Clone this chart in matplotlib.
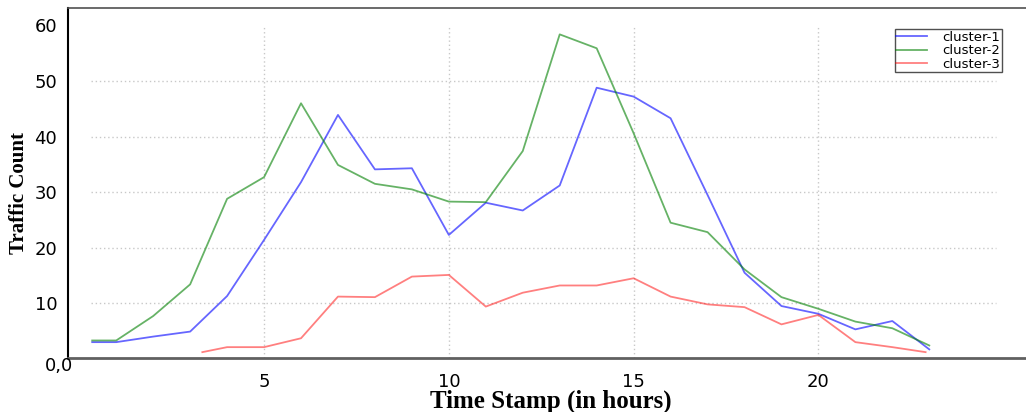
import matplotlib
matplotlib.use("Agg")
import matplotlib.pyplot as plt
import matplotlib.transforms as mtransforms

# ---- data ----
hours = [0.35, 1, 2, 3, 4, 5, 6, 7, 8, 9, 10, 11, 12, 13, 14, 15, 16, 17, 18, 19, 20, 21, 22, 23]
cluster1 = [3.0, 3.0, 4.0, 4.9, 11.3, 21.4, 31.8, 43.9, 34.1, 34.3, 22.3, 28.1, 26.7, 31.2,
            48.8, 47.2, 43.3, 29.5, 15.5, 9.5, 8.1, 5.3, 6.8, 1.7]
cluster2 = [3.3, 3.3, 7.7, 13.4, 28.8, 32.7, 46.0, 34.9, 31.5, 30.5, 28.3, 28.2, 37.4, 58.4,
            55.9, 40.6, 24.5, 22.8, 16.1, 11.1, 9.0, 6.7, 5.5, 2.4]
hours3 = [3.33, 4, 5, 6, 7, 8, 9, 10, 11, 12, 13, 14, 15, 16, 17, 18, 19, 20, 21, 22, 22.9]
cluster3 = [1.2, 2.1, 2.1, 3.7, 11.2, 11.1, 14.8, 15.1, 9.4, 11.9, 13.2, 13.2, 14.5, 11.2,
            9.8, 9.3, 6.2, 7.9, 3.0, 2.1, 1.2]
series_labels = ["cluster-1", "cluster-2", "cluster-3"]
xticks = [5, 10, 15, 20]
xtick_labels = ["5", "10", "15", "20"]
yticks = [10, 20, 30, 40, 50, 60]
ytick_labels = ["10", "20", "30", "40", "50", "60"]
zero_label = "0,0"

fig = plt.figure(figsize=(10.26, 4.12), dpi=100)
ax = fig.add_axes([0.0666, 0.1318, 0.94, 0.8488])

# grid lines (dotted, not spanning the full axes)
ax.hlines([10, 20, 30, 40, 50], 0.33, 24.8, colors="#c8c8c8", linestyles=(0, (1, 2)), lw=1.0, zorder=0)
ax.vlines(xticks, 0.2, 59.8, colors="#c8c8c8", linestyles=(0, (1, 2)), lw=1.0, zorder=0)

ax.plot(hours, cluster1, color="blue", alpha=0.6, lw=1.3, label=series_labels[0])
ax.plot(hours, cluster2, color="green", alpha=0.6, lw=1.3, label=series_labels[1])
ax.plot(hours3, cluster3, color="red", alpha=0.5, lw=1.3, label=series_labels[2])

ax.set_xlim(-0.296, 25.8)
ax.set_ylim(0.2, 63.15)

ax.set_xticks(xticks)
ax.set_xticklabels(xtick_labels, fontfamily="DejaVu Sans", fontsize=13)
ax.set_yticks(yticks)
ax.set_yticklabels(ytick_labels, fontfamily="DejaVu Sans", fontsize=13)
ax.tick_params(axis="x", length=0, pad=11)
ax.tick_params(axis="y", length=0, pad=8)

trans = mtransforms.blended_transform_factory(ax.transAxes, ax.transData)
ax.annotate(zero_label, xy=(0, 0.2), xycoords=trans, xytext=(3.5, -6), textcoords="offset points",
            ha="right", va="center", fontfamily="DejaVu Sans", fontsize=13)

ax.set_xlabel("Time Stamp (in hours)", fontfamily="Liberation Serif", fontweight="bold",
              fontsize=18, labelpad=-1)
ax.set_ylabel("Traffic Count", fontfamily="Liberation Serif", fontweight="bold", fontsize=15)
ax.yaxis.set_label_coords(-0.041, 0.47)

ax.spines["right"].set_visible(False)
ax.spines["left"].set_color("black")
ax.spines["left"].set_linewidth(1.5)
ax.spines["bottom"].set_color("#606060")
ax.spines["bottom"].set_linewidth(2.0)
ax.spines["top"].set_color("#505050")
ax.spines["top"].set_linewidth(1.2)

leg = ax.legend(loc="upper right", bbox_to_anchor=(1002 / 1026, 1 - 29 / 412),
                bbox_transform=fig.transFigure, borderaxespad=0, fancybox=False,
                framealpha=1, edgecolor="#505050", prop={"family": "DejaVu Sans", "size": 9.5},
                handlelength=2.3, handletextpad=1.2, labelspacing=0.05, borderpad=0.12)
leg.get_frame().set_linewidth(1.0)

fig.savefig("out.png", dpi=100)
